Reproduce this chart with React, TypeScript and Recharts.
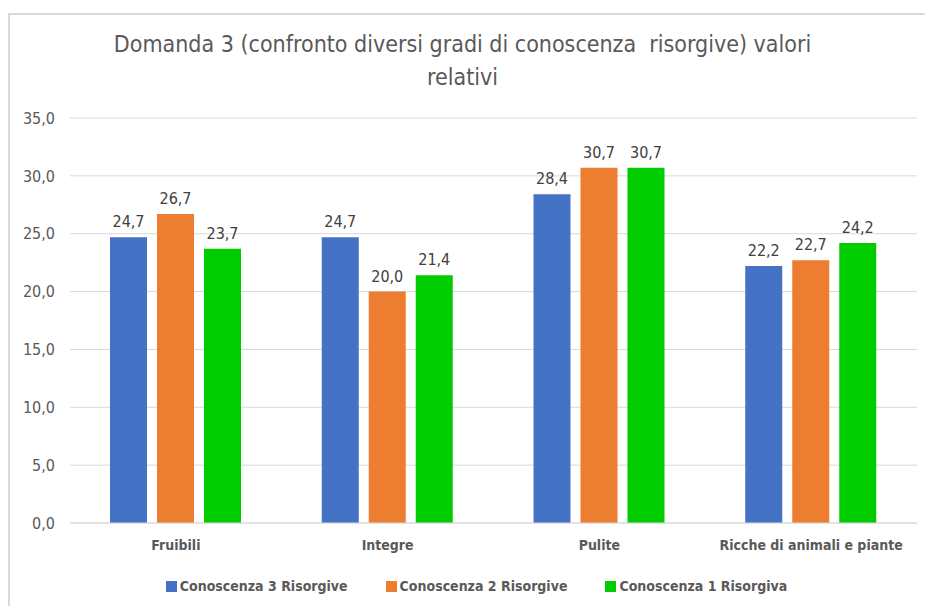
import { Bar, BarChart, CartesianGrid, LabelList, Legend, XAxis, YAxis } from "recharts";

const categories = ["Fruibili", "Integre", "Pulite", "Ricche di animali e piante"];
const conoscenza3 = [24.7, 24.7, 28.4, 22.2];
const conoscenza2 = [26.7, 20.0, 30.7, 22.7];
const conoscenza1 = [23.7, 21.4, 30.7, 24.2];
const yTicks = [0, 5, 10, 15, 20, 25, 30, 35];

const series = [
  { key: "c3", name: "Conoscenza 3 Risorgive", color: "#4472C4" },
  { key: "c2", name: "Conoscenza 2 Risorgive", color: "#ED7D31" },
  { key: "c1", name: "Conoscenza 1 Risorgiva", color: "#00CC00" },
];

const data = categories.map((name, i) => ({
  name,
  c3: conoscenza3[i],
  c2: conoscenza2[i],
  c1: conoscenza1[i],
}));

const font = "'DejaVu Sans Condensed', 'Open Sans', sans-serif";
const fmt = (v: any) => Number(v).toFixed(1).replace(".", ",");

function LegendRow() {
  return (
    <div style={{ display: "flex", justifyContent: "center", gap: 38, fontFamily: font, fontSize: 14, fontWeight: "bold", color: "#595959" }}>
      {series.map((s) => (
        <div key={s.key} style={{ display: "flex", alignItems: "center", gap: 3 }}>
          <span style={{ display: "inline-block", width: 11, height: 11, background: s.color }} />
          <span>{s.name}</span>
        </div>
      ))}
    </div>
  );
}

export default function App() {
  return (
    <div style={{ position: "absolute", left: 0, top: 0, width: 925, height: 606, background: "#fff", fontFamily: font, overflow: "hidden" }}>
      <div style={{ position: "absolute", left: 8, top: 13, width: 930, height: 600, borderLeft: "2px solid #d9d9d9", borderTop: "2px solid #d9d9d9" }} />
      <div style={{ position: "absolute", left: 0, top: 28, width: 925, textAlign: "center", fontSize: 23, lineHeight: "33px", color: "#595959" }}>
        Domanda 3 (confronto diversi gradi di conoscenza&nbsp; risorgive) valori
        <br />
        relativi
      </div>
      <div style={{ position: "absolute", left: 0, top: 0 }}>
        <BarChart width={925} height={606} data={data} margin={{ top: 118, right: 8, bottom: 27, left: 0 }} barSize={37} barGap={10}>
          <CartesianGrid vertical={false} stroke="#d9d9d9" />
          <XAxis
            dataKey="name"
            axisLine={{ stroke: "#d9d9d9" }}
            tickLine={false}
            tickSize={0}
            tickMargin={17}
            height={40}
            tick={{ fill: "#595959", fontSize: 14, fontWeight: "bold", fontFamily: font }}
          />
          <YAxis
            domain={[0, 35]}
            ticks={yTicks}
            width={70}
            axisLine={false}
            tickLine={false}
            tickSize={0}
            tickMargin={15}
            tickFormatter={fmt}
            tick={{ fill: "#595959", fontSize: 16, fontFamily: font }}
          />
          <Legend verticalAlign="bottom" content={LegendRow} wrapperStyle={{ bottom: 12, left: 18 }} />
          {series.map((s) => (
            <Bar key={s.key} dataKey={s.key} name={s.name} fill={s.color} isAnimationActive={false}>
              <LabelList dataKey={s.key} position="top" offset={10} formatter={fmt} style={{ fill: "#404040", fontSize: 16, fontFamily: font }} />
            </Bar>
          ))}
        </BarChart>
      </div>
    </div>
  );
}
